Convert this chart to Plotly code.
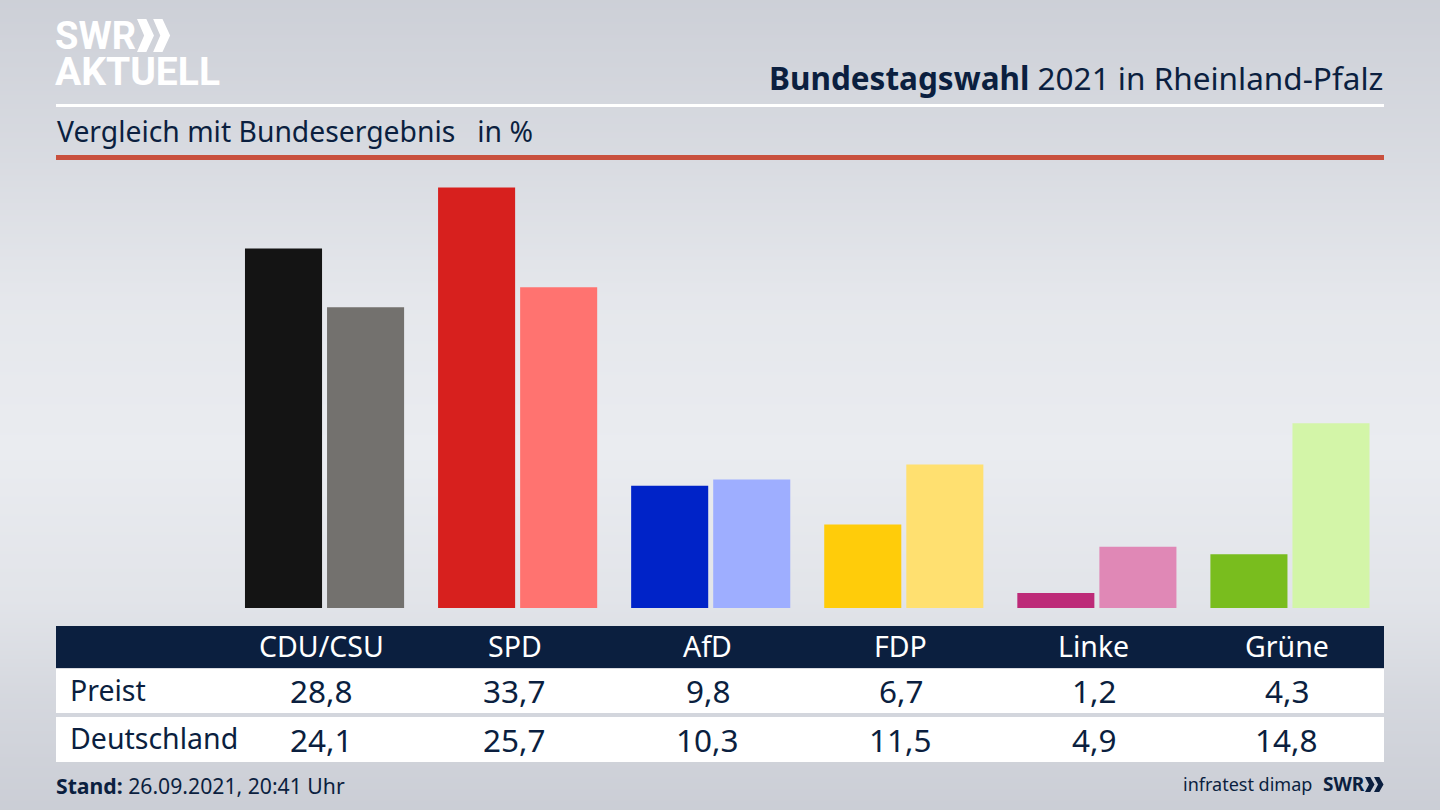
import plotly.graph_objects as go

parties = ["CDU/CSU", "SPD", "AfD", "FDP", "Linke", "Grüne"]
preist = [28.8, 33.7, 9.8, 6.7, 1.2, 4.3]
deutschland = [24.1, 25.7, 10.3, 11.5, 4.9, 14.8]
preist_colors = ["#141414", "#d7201e", "#0023c8", "#ffcc0a", "#bd2a78", "#79bd1e"]
deutschland_colors = ["#73716e", "#ff7370", "#9eaeff", "#ffe070", "#e088b6", "#d3f5a8"]

# background brightness from top to bottom of the page
bg_y = [0, 150, 300, 450, 600, 700, 810]
bg_level = [0.12, 0.45, 0.85, 1.0, 0.75, 0.35, 0.05]

NAVY = "#0b1f3f"
FONT = "Noto Sans"
LOGO_FONT = "Roboto"
W, H = 1440, 810


def px(x):
    return x / W


def py(y):
    return 1 - y / H


def label(x, y, text, size, color=NAVY, anchor="center", xref="paper", xshift=0, family=FONT):
    if xref == "paper":
        x = px(x)
    fig.add_annotation(x=x, y=py(y), xref=xref, yref="paper", text=text, showarrow=False,
                       xanchor=anchor, yanchor="middle", align=anchor, xshift=xshift,
                       font=dict(family=family, size=size, color=color))


def band(x0, x1, y0, y1, color):
    fig.add_shape(type="rect", xref="paper", yref="paper", x0=px(x0), x1=px(x1),
                  y0=py(y1), y1=py(y0), fillcolor=color, line_width=0)


def chevrons(x, y, h, w, color):
    # the two arrows of the SWR logo
    for i in range(2):
        x0 = x + i * w * 0.95
        pts = [(x0, y), (x0 + w * 0.55, y), (x0 + w, y + h / 2), (x0 + w * 0.55, y + h),
               (x0, y + h), (x0 + w * 0.42, y + h / 2)]
        path = "M" + " L".join(f"{px(a):.5f},{py(b):.5f}" for a, b in pts) + " Z"
        fig.add_shape(type="path", xref="paper", yref="paper", path=path, fillcolor=color, line_width=0)


fig = go.Figure()

# page background sits on the first axes so the bars draw over it
fig.add_trace(go.Heatmap(x=[0, W], y=bg_y, z=[[v, v] for v in bg_level], zsmooth="best", showscale=False,
                         zmin=0, zmax=1, colorscale=[[0, "#c9ccd4"], [1, "#eaecf0"]], hoverinfo="skip",
                         xaxis="x", yaxis="y"))

fig.add_trace(go.Bar(x=parties, y=preist, name="Preist", marker_color=preist_colors,
                     marker_line_width=0, xaxis="x2", yaxis="y2", offsetgroup="a"))
fig.add_trace(go.Bar(x=parties, y=deutschland, name="Deutschland", marker_color=deutschland_colors,
                     marker_line_width=0, xaxis="x2", yaxis="y2", offsetgroup="b"))

fig.update_layout(
    width=W, height=H, margin=dict(l=0, r=0, t=0, b=0),
    paper_bgcolor="#dfe1e7", plot_bgcolor="rgba(0,0,0,0)", showlegend=False,
    barmode="group", bargap=0.15, bargroupgap=0.061,
    xaxis=dict(domain=[0, 1], range=[0, W], visible=False, fixedrange=True),
    yaxis=dict(domain=[0, 1], range=[H, 0], visible=False, fixedrange=True),
    xaxis2=dict(domain=[px(228), px(1386.5)], range=[-0.5, 5.5], type="category", visible=False,
                anchor="y2", categoryorder="array", categoryarray=parties),
    yaxis2=dict(domain=[py(608), py(158)], range=[0, 36.06], visible=False, anchor="x2"),
)

# header rules
band(56, 1384, 104, 107, "#ffffff")
band(56, 1384, 155, 160, "#c9503e")

# table bands
band(56, 1384, 626, 668, NAVY)
band(56, 1384, 669, 713, "#ffffff")
band(56, 1384, 717, 762, "#ffffff")

# logo
label(53, 36, "<b>SWR</b>", 38, "#ffffff", "left", family=LOGO_FONT)
label(53, 72, "<b>AKTUELL</b>", 39, "#ffffff", "left", family=LOGO_FONT)
chevrons(137, 19, 33, 17, "#ffffff")

label(1385, 77, "<b>Bundestagswahl</b> 2021 in Rheinland-Pfalz", 31.5, NAVY, "right")
label(55, 131, "Vergleich mit Bundesergebnis&nbsp;&nbsp; in %", 28.3, NAVY, "left")

label(68, 690, "Preist", 28.5, NAVY, "left")
label(68, 738, "Deutschland", 28.5, NAVY, "left")

for i, party in enumerate(parties):
    label(i, 646, party, 28.5, "#ffffff", xref="x2", xshift=-3)
    label(i, 690, f"{preist[i]:.1f}".replace(".", ","), 31.5, NAVY, xref="x2", xshift=-3)
    label(i, 739, f"{deutschland[i]:.1f}".replace(".", ","), 31.5, NAVY, xref="x2", xshift=-3)

# footer
label(54, 785, "<b>Stand:</b> 26.09.2021, 20:41 Uhr", 21.2, NAVY, "left")
label(1314, 784, "infratest dimap", 18, NAVY, "right")
label(1367, 784, "<b>SWR</b>", 19, NAVY, "right")
chevrons(1365, 777, 15, 9.5, NAVY)

fig.write_html("out.html", post_script="document.body.style.margin='0';", config={"displayModeBar": False})
